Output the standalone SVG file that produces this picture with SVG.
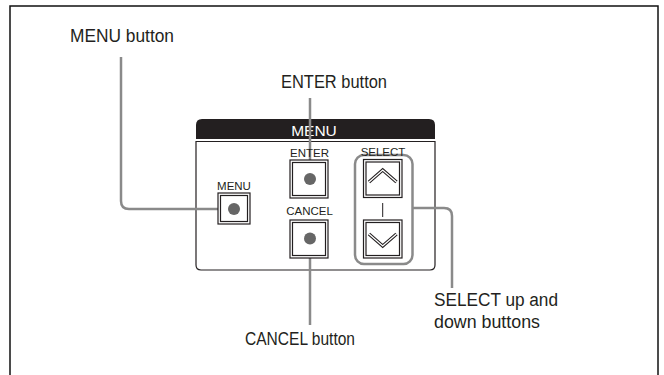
<svg xmlns="http://www.w3.org/2000/svg" width="664" height="375" viewBox="0 0 664 375">
<style>
.lbl{font-family:"Liberation Sans",Arial,sans-serif;font-size:18px;fill:#231f20}
.sm{font-family:"Liberation Sans",Arial,sans-serif;font-size:11.5px;fill:#231f20;text-anchor:middle}
.btn{fill:#fff;stroke:#231f20;stroke-width:1.2}
.dot{fill:#666}
.conn{fill:none;stroke:#8a8a8a;stroke-width:2.5}
</style>
<rect width="664" height="375" fill="#fff"/>
<rect x="10" y="6" width="648" height="380" fill="none" stroke="#111" stroke-width="1.5"/>

<g id="panel">
  <path d="M196,139 V125 Q196,119 202,119 H429 Q435,119 435,125 V139 Z" fill="#231f20"/>
  <text x="314" y="136" font-family="'Liberation Sans',Arial,sans-serif" font-size="15.5" fill="#fff" text-anchor="middle">MENU</text>
  <path d="M196,141.5 H435 V265 Q435,270 430,270 H201 Q196,270 196,265 Z" fill="none" stroke="#231f20" stroke-width="1.2"/>
</g>

<g id="connectors">
  <path class="conn" d="M121,57 V201 Q121,209 129,209 H234"/>
  <path class="conn" d="M310,98 V179"/>
  <path class="conn" d="M310,238 V325"/>
  <path class="conn" d="M412,208 H444 Q452,208 452,216 V288"/>
</g>

<g id="select-group">
  <rect x="355" y="155" width="57.5" height="109" rx="9" fill="none" stroke="#8a8a8a" stroke-width="2.5"/>
  <text class="sm" x="383" y="156">SELECT</text>
</g>

<g id="menu-btn">
  <text class="sm" x="234" y="189.5">MENU</text>
  <rect class="btn" x="218" y="193" width="32" height="31"/>
  <rect class="btn" x="220.5" y="195.5" width="27" height="26"/>
  <circle class="dot" cx="234" cy="209" r="6"/>
</g>

<g id="enter-btn">
  <text class="sm" x="309.5" y="157">ENTER</text>
  <rect class="btn" x="290" y="160" width="38" height="38"/>
  <rect class="btn" x="292.5" y="162.5" width="33" height="33"/>
  <circle class="dot" cx="310" cy="179" r="6"/>
</g>

<g id="cancel-btn">
  <text class="sm" x="309.5" y="214.5">CANCEL</text>
  <rect class="btn" x="290" y="220" width="38" height="38"/>
  <rect class="btn" x="292.5" y="222.5" width="33" height="33"/>
  <circle class="dot" cx="310" cy="238.5" r="6"/>
</g>

<g id="up-btn">
  <rect class="btn" x="363.5" y="159.5" width="38.5" height="38"/>
  <rect class="btn" x="366" y="162" width="33.5" height="33"/>
  <polyline points="369,182 382.7,170 396.5,182" fill="none" stroke="#231f20" stroke-width="3.4"/>
  <polyline points="369,182 382.7,170 396.5,182" fill="none" stroke="#fff" stroke-width="1.3"/>
</g>

<line x1="382.7" y1="203" x2="382.7" y2="217" stroke="#231f20" stroke-width="1"/>

<g id="down-btn">
  <rect class="btn" x="363.5" y="220" width="38.5" height="38"/>
  <rect class="btn" x="366" y="222.5" width="33.5" height="33"/>
  <polyline points="369,234 382.7,246 396.5,234" fill="none" stroke="#231f20" stroke-width="3.4"/>
  <polyline points="369,234 382.7,246 396.5,234" fill="none" stroke="#fff" stroke-width="1.3"/>
</g>

<g id="labels">
  <text class="lbl" x="70" y="42" textLength="104" lengthAdjust="spacingAndGlyphs">MENU button</text>
  <text class="lbl" x="281" y="88" textLength="106" lengthAdjust="spacingAndGlyphs">ENTER button</text>
  <text class="lbl" x="434" y="306" textLength="124" lengthAdjust="spacingAndGlyphs">SELECT up and</text>
  <text class="lbl" x="434" y="328" textLength="106" lengthAdjust="spacingAndGlyphs">down buttons</text>
  <text class="lbl" x="245" y="345" textLength="110" lengthAdjust="spacingAndGlyphs">CANCEL button</text>
</g>
</svg>
